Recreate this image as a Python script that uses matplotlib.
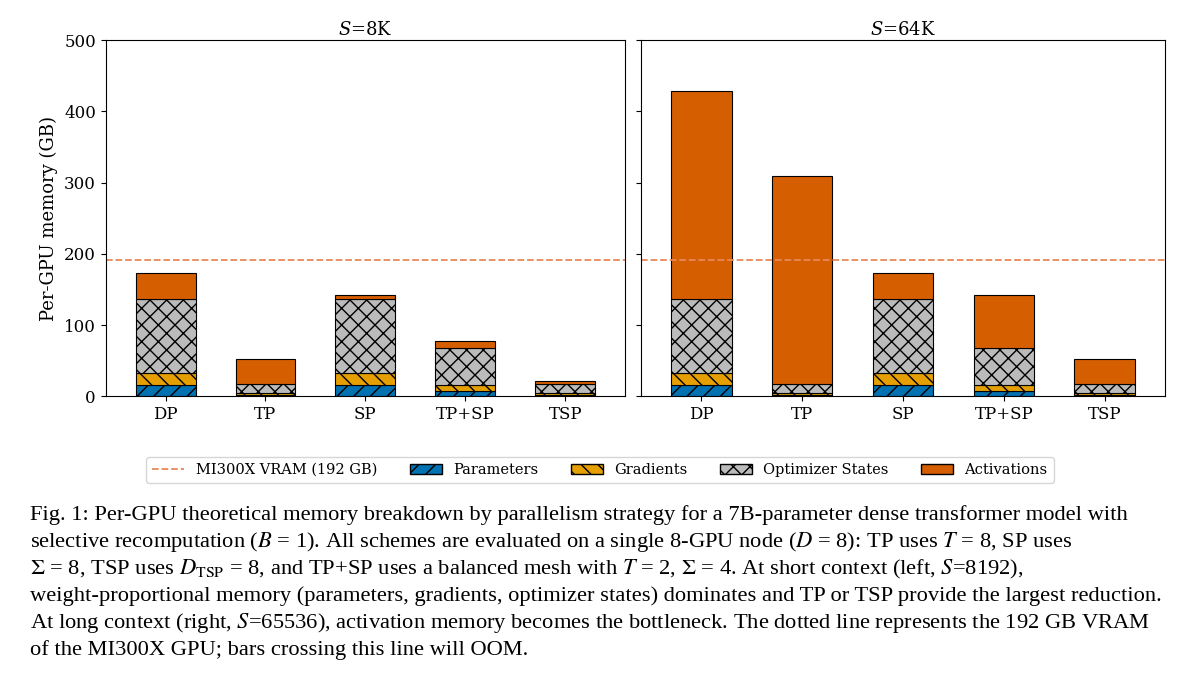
import numpy as np
import matplotlib
matplotlib.use("Agg")
import matplotlib.pyplot as plt
from matplotlib.lines import Line2D
from matplotlib.patches import Patch

plt.rcParams['font.family'] = 'DejaVu Serif'
plt.rcParams['mathtext.fontset'] = 'dejavuserif'
plt.rcParams['hatch.linewidth'] = 1.0

strategies = ["DP", "TP", "SP", "TP+SP", "TSP"]
params = [16, 2, 16, 8, 2]
grads = [17, 2, 17, 8, 2]
optim = [104, 13, 104, 52, 13]
act_8k = [36, 36, 5, 9, 4.5]
act_64k = [292, 292, 36, 74, 36]
vram = 192

c_par, c_grad, c_opt, c_act = "#0072B2", "#E69F00", "#BBBBBB", "#D55E00"

fig = plt.figure(figsize=(12, 6.81), dpi=100)
ax1 = fig.add_axes([0.088, 0.418, 0.433, 0.523])
ax2 = fig.add_axes([0.534, 0.418, 0.437, 0.523], sharey=ax1)

x = np.arange(len(strategies))
for ax, act, title in [(ax1, act_8k, "$S$=8K"), (ax2, act_64k, "$S$=64K")]:
    b = np.zeros(len(x))
    for vals, col, h in [(params, c_par, "//"), (grads, c_grad, "\\\\"),
                         (optim, c_opt, "xx"), (act, c_act, "")]:
        ax.bar(x, vals, 0.6, bottom=b, color=col, edgecolor="black",
               linewidth=0.8, hatch=h)
        b += np.array(vals)
    ax.axhline(vram, color="#E8895A", ls="--", lw=1.3)
    ax.set_xticks(x)
    ax.set_xticklabels(strategies, fontsize=12)
    ax.set_title(title, fontsize=13, pad=4)
    ax.set_xlim(-0.6, 4.6)
    ax.tick_params(labelsize=12)
ax1.set_ylim(0, 500)
ax1.set_yticks([0, 100, 200, 300, 400, 500])
ax1.set_ylabel("Per-GPU memory (GB)", fontsize=13)
plt.setp(ax2.get_yticklabels(), visible=False)

handles = [Line2D([0], [0], color="#E8895A", ls="--", lw=1.3),
           Patch(facecolor=c_par, edgecolor="black", hatch="//"),
           Patch(facecolor=c_grad, edgecolor="black", hatch="\\\\"),
           Patch(facecolor=c_opt, edgecolor="black", hatch="xx"),
           Patch(facecolor=c_act, edgecolor="black")]
labels = ["MI300X VRAM (192 GB)", "Parameters", "Gradients", "Optimizer States", "Activations"]
fig.legend(handles, labels, loc="center", bbox_to_anchor=(0.5, 0.31), ncol=5,
           fontsize=10.5, frameon=True, handlelength=2.2, columnspacing=2.2)

caption = [
    "Fig. 1: Per-GPU theoretical memory breakdown by parallelism strategy for a 7B-parameter dense transformer model with",
    "selective recomputation ($B$ = 1). All schemes are evaluated on a single 8-GPU node ($D$ = 8): TP uses $T$ = 8, SP uses",
    "$\\Sigma$ = 8, TSP uses $D_{\\mathrm{TSP}}$ = 8, and TP+SP uses a balanced mesh with $T$ = 2, $\\Sigma$ = 4. At short context (left, $S$=8192),",
    "weight-proportional memory (parameters, gradients, optimizer states) dominates and TP or TSP provide the largest reduction.",
    "At long context (right, $S$=65536), activation memory becomes the bottleneck. The dotted line represents the 192 GB VRAM",
    "of the MI300X GPU; bars crossing this line will OOM.",
]
for i, line in enumerate(caption):
    fig.text(0.025, 0.243 - i * 0.0395, line, family="Liberation Serif",
             fontsize=16.2, va="center", math_fontfamily="stix")

fig.savefig("out.png", dpi=100)
